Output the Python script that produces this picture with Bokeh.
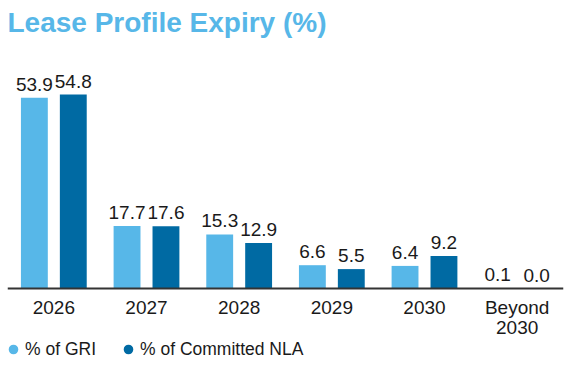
from bokeh.plotting import figure
from bokeh.models import ColumnDataSource, FactorRange, Range1d, Legend, LegendItem, Title
from bokeh.transform import dodge
from bokeh.core.properties import value
from bokeh.embed import file_html
from bokeh.resources import INLINE

categories = ["2026", "2027", "2028", "2029", "2030", "Beyond\n2030"]
gri = [53.9, 17.7, 15.3, 6.6, 6.4, 0.1]
nla = [54.8, 17.6, 12.9, 5.5, 9.2, 0.0]

LIGHT = "#57B7E8"
DARK = "#006AA3"
FONT = "Liberation Sans"

src = ColumnDataSource(dict(
    cat=categories, gri=gri, nla=nla,
    gri_lbl=[f"{v:.1f}" for v in gri], nla_lbl=[f"{v:.1f}" for v in nla],
))

p = figure(width=566, height=372, x_range=FactorRange(*categories, range_padding=0.0),
           y_range=Range1d(-23.7, 70.9), output_backend="svg", toolbar_location=None,
           min_border_left=7, min_border_right=3, min_border_top=37, min_border_bottom=0)
p.outline_line_color = None
p.xgrid.grid_line_color = None
p.ygrid.grid_line_color = None
p.yaxis.visible = False
p.background_fill_color = "white"

t = Title(text="Lease Profile Expiry (%)", text_font=FONT, text_font_size="28px",
          text_font_style="bold", text_color=LIGHT, offset=0, standoff=0)
p.add_layout(t, "above")

r1 = p.vbar(x=dodge("cat", -0.21, range=p.x_range), top="gri", width=0.29, source=src,
            fill_color=LIGHT, line_color=None)
r2 = p.vbar(x=dodge("cat", 0.21, range=p.x_range), top="nla", width=0.29, source=src,
            fill_color=DARK, line_color=None)

p.text(x=dodge("cat", -0.21, range=p.x_range), y="gri", text="gri_lbl", source=src,
       text_align="center", text_baseline="bottom", y_offset=-7,
       text_font=value(FONT), text_font_size="19px", text_color="#1a1a1a")
p.text(x=dodge("cat", 0.21, range=p.x_range), y="nla", text="nla_lbl", source=src,
       text_align="center", text_baseline="bottom", y_offset=-7,
       text_font=value(FONT), text_font_size="19px", text_color="#1a1a1a")

ax = p.xaxis[0]
ax.fixed_location = 0
ax.axis_line_color = "#333333"
ax.axis_line_width = 2
ax.major_tick_line_color = None
ax.minor_tick_line_color = None
ax.major_label_text_font = FONT
ax.major_label_text_font_size = "19px"
ax.major_label_text_color = "#1a1a1a"
ax.major_label_text_line_height = 0.95
ax.major_label_standoff = 2

dummy = ColumnDataSource(dict(x=[-100.0], y=[-100.0]))
m1 = p.scatter(x="x", y="y", source=dummy, marker="circle", size=11, fill_color=LIGHT, line_color=None)
m2 = p.scatter(x="x", y="y", source=dummy, marker="circle", size=11, fill_color=DARK, line_color=None)

legend = Legend(items=[LegendItem(label="% of GRI", renderers=[m1]),
                       LegendItem(label="% of Committed NLA", renderers=[m2])],
                orientation="horizontal", location=(-6, 9),
                label_text_font=FONT, label_text_font_size="17.5px", label_text_color="#1a1a1a",
                glyph_width=24, glyph_height=28, label_standoff=0, spacing=20,
                border_line_color=None, background_fill_alpha=0, padding=0, margin=0)
p.add_layout(legend, "center")

open("out.html", "w").write(file_html(p, INLINE))
